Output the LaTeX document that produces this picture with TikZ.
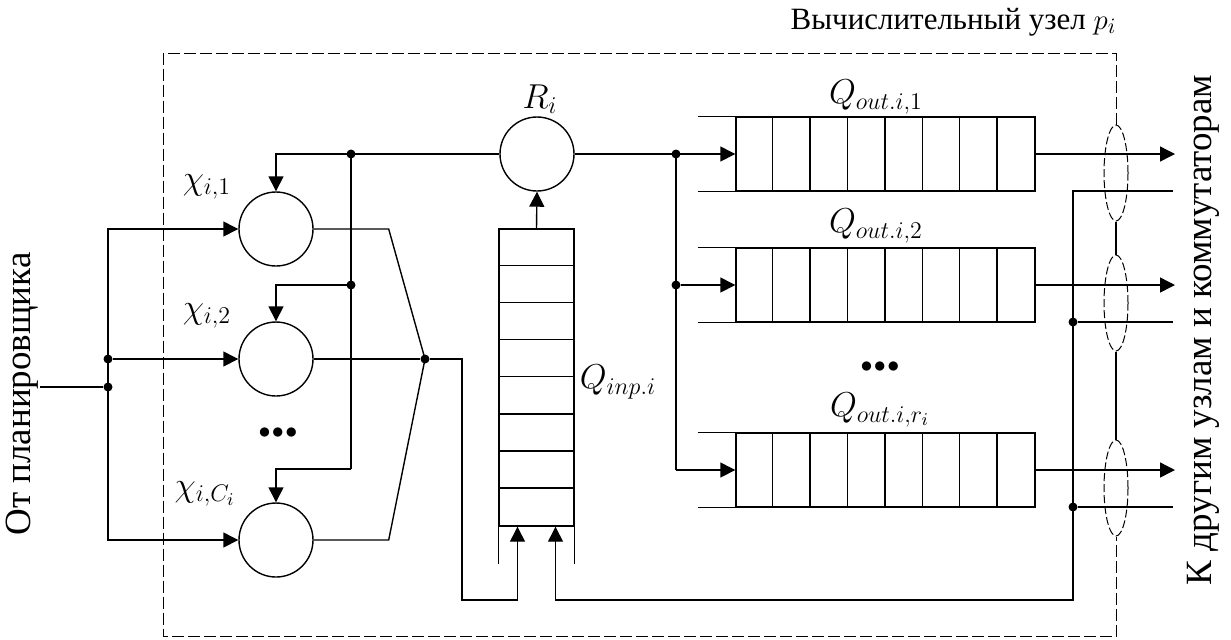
\documentclass[tikz,border=0pt]{standalone}
\usepackage{fontspec}
\setmainfont{Liberation Serif}
\usetikzlibrary{positioning,arrows.meta,calc,shapes.geometric}

\begin{document}
\begin{tikzpicture}[
  x=0.5pt, y=-0.5pt,
  line width=0.7pt,
  server/.style={circle, draw, minimum size=37pt, inner sep=0pt},
  qbox/.style={draw, minimum width=149.5pt, minimum height=37pt, inner sep=0pt},
  ibox/.style={draw, minimum width=37.5pt, minimum height=148.5pt, inner sep=0pt},
  jdot/.style={circle, fill, inner sep=0pt, minimum size=4.5pt},
  arr/.style={-{Triangle[length=7.5pt,width=7.5pt]}},
  node box/.style={dash pattern=on 6pt off 2pt, line width=0.5pt},
  link/.style={ellipse, draw, dash pattern=on 4pt off 1.5pt, line width=0.5pt, minimum width=12pt, minimum height=48pt, inner sep=0pt},
  lbl/.style={font=\fontsize{18.5}{22}\selectfont, inner sep=1pt},
  more/.style={font=\fontsize{13}{16}\selectfont, inner sep=0pt},
  side/.style={font=\fontsize{18.5}{22}\selectfont, rotate=90}
]
\useasboundingbox (0,0) rectangle (1231,639);
% ---------- servers chi ----------
\node[server] (x1) at (276,229) {};
\node[server] (x2) at (276,359) {};
\node[server] (xc) at (276,540) {};
\node[lbl] (lx1) at (207,187) {$\chi_{i,1}$};
\node[lbl] (lx2) at (207,316) {$\chi_{i,2}$};
\node[lbl] (lxc) at (205,494) {$\chi_{i,C_i}$};
\node[more] (dl) at (278,433) {$\bullet\!\bullet\!\bullet$};

% ---------- input from scheduler ----------
\node[side] (from) at (22,394) {От планировщика};
\coordinate (src) at (40,387);
\node[jdot] (ds) at (108,387) {};
\node[jdot] (d2) at (108,359) {};
\draw (src) -- (ds);
\draw[arr] (ds.center) |- (x1.west);
\draw[arr] (d2) -- (x2.west);
\draw[arr] (ds.center) |- (xc.west);

% ---------- router R ----------
\node[server] (R) at (537,154) {};
\node[lbl] (lR) at (540,99) {$R_i$};
\node[jdot] (f1) at (351,154) {};
\node[jdot] (f2) at (351,285) {};
\coordinate (f3) at (351,469);
\draw[arr] (R.west) -| (x1.north);
\draw (f1.center) -- (f3);
\draw[arr] (f2.center) -| (x2.north);
\draw[arr] (f3) -| (xc.north);

% ---------- outputs to junction ----------
\node[jdot] (J) at (425,359) {};
\draw (x1.east) -- ++(75,0) -- (J.center);
\draw (x2.east) -- (J);
\draw (xc.east) -- ++(75,0) -- (J.center);

% ---------- input queue ----------
\node[ibox] (qinp) at (536.5,377.5) {};
\foreach \k in {1,...,7} \draw ($(qinp.north west)+(0,37.1*\k)$) -- ++(75,0);
\draw (qinp.south west) -- ++(0,37);
\draw (qinp.south east) -- ++(0,37);
\node[lbl] (lqinp) at (618,382) {$Q_{inp.i}$};
\draw[arr] (qinp.north) -- (R.south);
\coordinate (lowL) at (462,600);
\draw[arr] (J) -| (lowL) -| ($(qinp.south)+(-19,0)$);

% ---------- output queues ----------
\node[qbox] (q1) at (885.5,154) {};
\node[qbox] (q2) at (885.5,285) {};
\node[qbox] (q3) at (885.5,470) {};
\foreach \q in {q1,q2,q3} {
  \foreach \k in {1,...,7} \draw ($(\q.north west)+(37.4*\k,0)$) -- ++(0,74);
  \draw (\q.north west) -- ++(-37,0);
  \draw (\q.south west) -- ++(-37,0);
}
\node[lbl] (lq1) at (876,97) {$Q_{out.i,1}$};
\node[lbl] (lq2) at (876,226) {$Q_{out.i,2}$};
\node[lbl] (lq3) at (880,410) {$Q_{out.i,r_i}$};
\node[more] (dr) at (880,367) {$\bullet\!\bullet\!\bullet$};
\node[jdot] (g1) at (676,154) {};
\node[jdot] (g2) at (676,285) {};
\coordinate (g3) at (676,470);
\draw[arr] (R.east) -- (q1.west);
\draw (g1.center) -- (g3);
\draw[arr] (g2) -- (q2.west);
\draw[arr] (g3) -- (q3.west);

% ---------- links to other nodes ----------
\coordinate (o1) at (1175,154);
\coordinate (o2) at (1175,285);
\coordinate (o3) at (1175,470);
\draw[arr] (q1.east) -- (o1);
\draw[arr] (q2.east) -- (o2);
\draw[arr] (q3.east) -- (o3);
\coordinate (in1) at (1173,191);
\coordinate (in2) at (1173,322);
\coordinate (in3) at (1173,507);
\coordinate (bus) at (1073,600);
\node[jdot] (b2) at (1073,322) {};
\node[jdot] (b3) at (1073,507) {};
\draw[arr] (in1) -| (bus) -| ($(qinp.south)+(19,0)$);
\draw (in2) -- (b2);
\draw (in3) -- (b3);
\node[side] (to) at (1203,330) {К другим узлам и коммутаторам};

% ---------- node boundary ----------
\node[link] (e1) at (1116,173) {};
\node[link] (e2) at (1116,303) {};
\node[link] (e3) at (1116,488) {};
\draw (e1.south) -- (e2.north);
\draw (e2.south) -- (e3.north);
\draw[node box] (e1.north) |- (163,53) -- (163,636) -| (e3.south);
\node[font=\fontsize{15.5}{18}\selectfont, anchor=east, inner sep=0pt] (title) at (1117,22) {Вычислительный узел $p_i$};
\end{tikzpicture}
\end{document}
